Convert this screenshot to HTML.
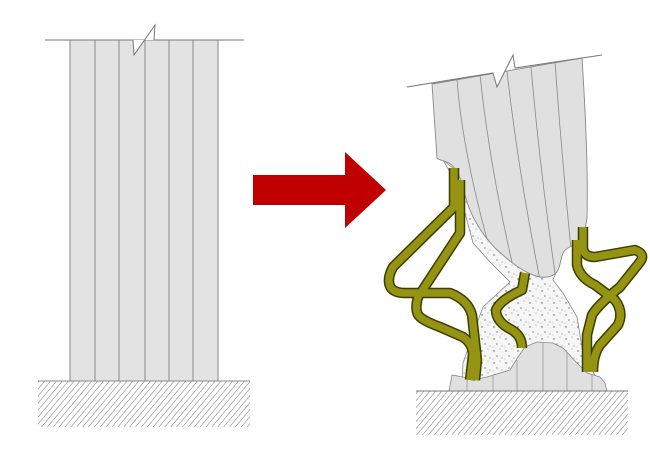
<!DOCTYPE html>
<html><head><style>html,body{margin:0;padding:0;background:#fff}svg{display:block}</style></head>
<body>
<svg width="650" height="472" viewBox="0 0 650 472" xmlns="http://www.w3.org/2000/svg">
<defs>
<pattern id="h" width="4.5" height="4.5" patternUnits="userSpaceOnUse" patternTransform="rotate(40)">
<line x1="0" y1="0" x2="0" y2="4.5" stroke="#777" stroke-width="1"/>
</pattern>
<pattern id="dots" width="12" height="12" patternUnits="userSpaceOnUse">
<rect width="12" height="12" fill="#f6f6f6"/>
<circle cx="2" cy="3" r="0.7" fill="#555"/><circle cx="8" cy="1" r="0.5" fill="#777"/>
<circle cx="5" cy="8" r="0.6" fill="#444"/><circle cx="10" cy="10" r="0.5" fill="#666"/>
<circle cx="1" cy="11" r="0.4" fill="#777"/>
</pattern>
</defs>
<!-- LEFT -->
<rect x="38" y="381" width="212" height="46" fill="url(#h)"/>
<rect x="70" y="40" width="148" height="341" fill="#e3e3e3" stroke="#888" stroke-width="1"/>
<g stroke="#888" stroke-width="1">
<line x1="95" y1="40" x2="95" y2="381"/><line x1="119" y1="40" x2="119" y2="381"/>
<line x1="145" y1="40" x2="145" y2="381"/><line x1="169" y1="40" x2="169" y2="381"/>
<line x1="193" y1="40" x2="193" y2="381"/>
<line x1="38" y1="381" x2="250" y2="381"/>
</g>
<polygon points="133,40 134,55 155,25 154,40" fill="#fff"/>
<polyline points="45,40 133,40 134,55 155,25 154,40 244,40" fill="none" stroke="#777" stroke-width="1"/>
<!-- ARROW -->
<polygon points="253,175 345,175 345,152 386,190 345,228 345,205 253,205" fill="#c00000"/>
<!-- RIGHT -->
<rect x="416" y="391" width="212" height="44" fill="url(#h)"/>
<path d="M443,160 L450,172 L465,213 L473,243 L490,262 L510,282 L483,307 L477,323 L470,343 L463,363 L462,385 L600,385 L583,353 L577,317 L563,293 L553,280 L560,263 L555,250 Z" fill="url(#dots)" stroke="#888" stroke-width="0.8"/>
<!-- stump -->
<path d="M449,391 L452,375 L463,377 L473,380 L487,377 L510,370 L518,357 L525,347 L537,342 L553,343 L563,348 L577,363 L587,373 L600,377 L605,383 L607,391 Z" fill="#e0e0e0" stroke="#888" stroke-width="0.8"/>
<g stroke="#999" stroke-width="0.8"><line x1="467" y1="378" x2="467" y2="391"/><line x1="493" y1="376" x2="493" y2="391"/><line x1="517" y1="360" x2="517" y2="391"/><line x1="543" y1="342" x2="543" y2="391"/><line x1="567" y1="352" x2="567" y2="391"/><line x1="592" y1="375" x2="592" y2="391"/></g>
<line x1="416" y1="391" x2="628" y2="391" stroke="#777"/>
<!-- column -->
<clipPath id="cc"><path d="M432,84 L582,58 C586,120 588,180 587,218 C585,235 578,243 568,248 C560,252 562,262 558,270 C555,276 548,278 540,277 C525,274 510,262 495,248 C480,232 470,215 465,195 C462,180 457,168 449,163 C443,160 438,160 437,158 Z"/></clipPath>
<path d="M432,84 L582,58 C586,120 588,180 587,218 C585,235 578,243 568,248 C560,252 562,262 558,270 C555,276 548,278 540,277 C525,274 510,262 495,248 C480,232 470,215 465,195 C462,180 457,168 449,163 C443,160 438,160 437,158 Z" fill="#e0e0e0" stroke="#888" stroke-width="0.9"/>
<g clip-path="url(#cc)" stroke="#888" stroke-width="0.8" fill="none">
<path d="M457,79 Q462,150 490,250"/><path d="M480,75 Q490,170 515,275"/>
<path d="M507,71 Q518,170 540,280"/><path d="M531,67 Q540,170 556,280"/>
<path d="M555,62 Q562,160 572,260"/>
</g>
<polygon points="493,73 497,87 513,55 515,68" fill="#fff"/>
<polyline points="407,87 493,73 497,87 513,55 515,68 602,55" fill="none" stroke="#777" stroke-width="1"/>
<!-- rebars -->
<g fill="none" stroke-linejoin="round" stroke-linecap="butt">
<g stroke="#3d3d00" stroke-width="10.5">
<path d="M454,168 L454,207 L393,267 Q386,280 391,288 Q395,293 405,293 L450,293 Q468,300 472,315 L477,360 L475,380"/>
<path d="M460,180 L460,233 L418,297 Q414,312 420,317 Q426,322 440,327 L463,337 Q473,344 473,355 L470,380"/>
<path d="M525,273 L522,290 Q500,300 496,310 Q496,322 512,330 Q522,336 522,348"/>
<path d="M583,227 L583,248 Q584,257 595,257 L635,250 Q646,254 640,262 L620,287 Q598,305 592,315 L587,335 L587,372"/>
<path d="M577,240 L577,265 Q580,278 595,285 L615,300 Q624,312 618,325 L600,345 Q593,355 593,372"/>
</g>
<g stroke="#949412" stroke-width="7.5">
<path d="M454,168 L454,207 L393,267 Q386,280 391,288 Q395,293 405,293 L450,293 Q468,300 472,315 L477,360 L475,380"/>
<path d="M460,180 L460,233 L418,297 Q414,312 420,317 Q426,322 440,327 L463,337 Q473,344 473,355 L470,380"/>
<path d="M525,273 L522,290 Q500,300 496,310 Q496,322 512,330 Q522,336 522,348"/>
<path d="M583,227 L583,248 Q584,257 595,257 L635,250 Q646,254 640,262 L620,287 Q598,305 592,315 L587,335 L587,372"/>
<path d="M577,240 L577,265 Q580,278 595,285 L615,300 Q624,312 618,325 L600,345 Q593,355 593,372"/>
</g>
</g>
</svg>
</body></html>
